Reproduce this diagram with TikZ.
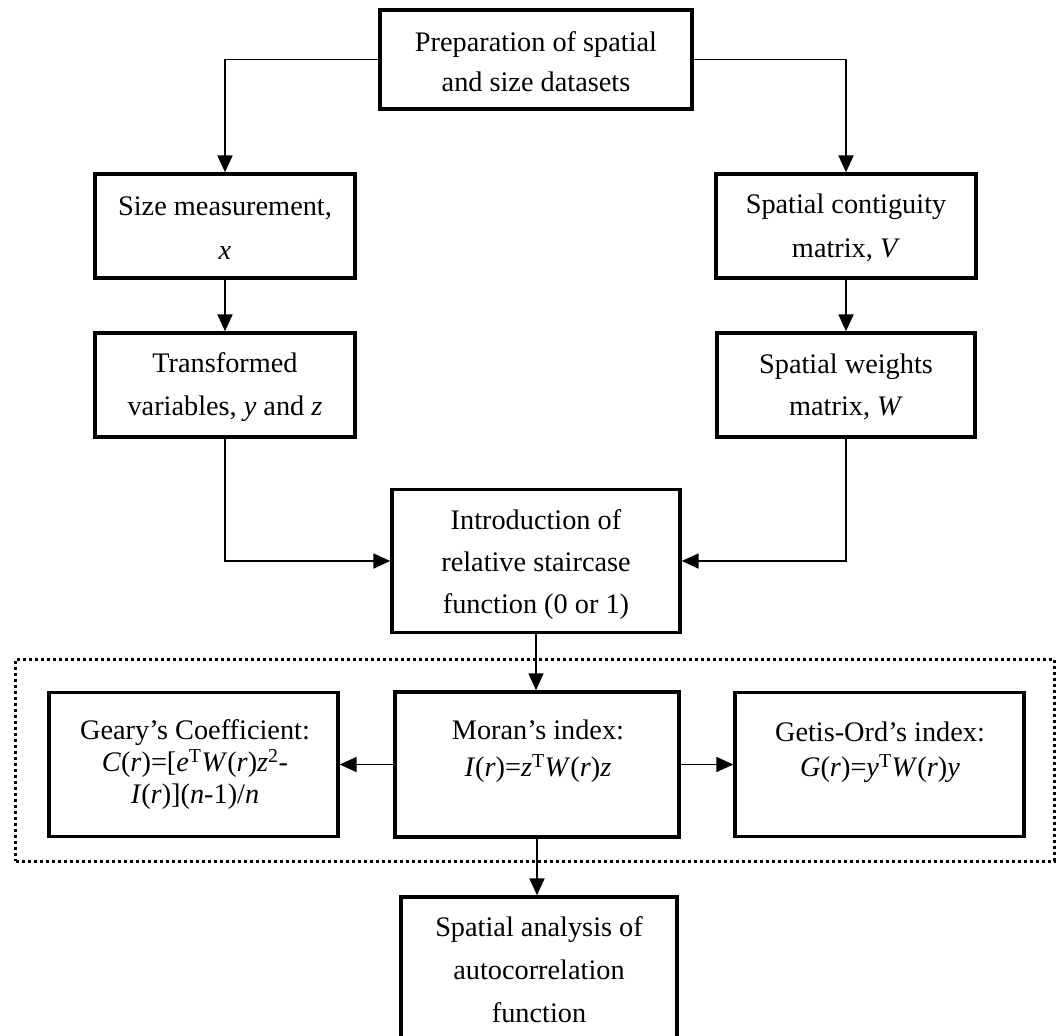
\documentclass[tikz,border=0pt]{standalone}
\usepackage{fontspec}
\setmainfont{Liberation Serif}
\usetikzlibrary{arrows.meta}
\begin{document}
\begin{tikzpicture}[x=1bp,y=-1bp,
  box/.style={draw, line width=3.4bp, inner sep=0pt},
  txt/.style={align=center, inner sep=0pt, font=\fontsize{28.3bp}{#1}\selectfont},
  txt/.default={42bp},
  conn/.style={line width=1.9bp, -{Triangle[length=17bp,width=15bp]}},
  dotframe/.style={draw, line width=3bp, dash pattern=on 3bp off 3bp, inner sep=0pt}]
\useasboundingbox (0,0) rectangle (1058,1036);
% dotted frame
\node[dotframe, minimum width=1038bp, minimum height=202bp] (frame) at (535,760) {};
% boxes
\node[box, minimum width=312bp, minimum height=99bp] (top) at (536,59.5) {};
\node[box, minimum width=260bp, minimum height=104bp] (size) at (225,226) {};
\node[box, minimum width=260bp, minimum height=104bp] (contig) at (846,226) {};
\node[box, minimum width=260bp, minimum height=104bp] (trans) at (225,385) {};
\node[box, minimum width=258bp, minimum height=104bp] (weights) at (846,385) {};
\node[box, minimum width=288bp, minimum height=143bp] (intro) at (536,561) {};
\node[box, minimum width=289bp, minimum height=144bp] (geary) at (193.5,764.5) {};
\node[box, minimum width=284bp, minimum height=145bp] (moran) at (537,764.5) {};
\node[box, minimum width=289bp, minimum height=144bp] (getis) at (879.5,764.5) {};
\node[box, minimum width=276bp, minimum height=170bp] (bottom) at (539,982) {};
% texts
\node[txt=40bp] (topt) at (536,62) {Preparation of spatial\\and size datasets};
\node[txt=44bp] (sizet) at (225,228) {Size measurement,\\\textit{x}};
\node[txt=44bp] (contigt) at (846,228) {Spatial contiguity\\matrix, \textit{V}};
\node[txt=43bp] (transt) at (225,387) {Transformed\\variables, \textit{y} and \textit{z}};
\node[txt=42bp] (weightst) at (846,387) {Spatial weights\\matrix, \textit{W}};
\node[txt=42bp] (introt) at (536,565) {Introduction of\\relative staircase\\function (0 or 1)};
\node[txt=32bp] (gearyt) at (195,765) {Geary’s Coefficient:\\\textit{C}(\textit{r})=[\textit{e}\textsuperscript{T}\textit{W}(\textit{r})\textit{z}\textsuperscript{2}-\\\textit{I}(\textit{r})](\textit{n}-1)/\textit{n}};
\node[txt=37bp] (morant) at (538,751) {Moran’s index:\\\textit{I}(\textit{r})=\textit{z}\textsuperscript{T}\textit{W}(\textit{r})\textit{z}};
\node[txt=35bp] (getist) at (880,752) {Getis-Ord’s index:\\\textit{G}(\textit{r})=\textit{y}\textsuperscript{T}\textit{W}(\textit{r})\textit{y}};
\node[txt=43bp] (bottomt) at (539,970) {Spatial analysis of\\autocorrelation\\function};
% connectors
\draw[conn] (top.west) -| (size.north);
\draw[conn] (top.east) -| (contig.north);
\draw[conn] (size) -- (trans);
\draw[conn] (contig) -- (weights);
\draw[conn] (trans.south) |- (intro.west);
\draw[conn] (weights.south) |- (intro.east);
\draw[conn] (intro.south) -- (intro.south|-moran.north);
\draw[conn] (moran.west) -- (geary.east);
\draw[conn] (moran.east) -- (getis.west);
\draw[conn] (moran.south) -- (moran.south|-bottom.north);
\end{tikzpicture}
\end{document}
